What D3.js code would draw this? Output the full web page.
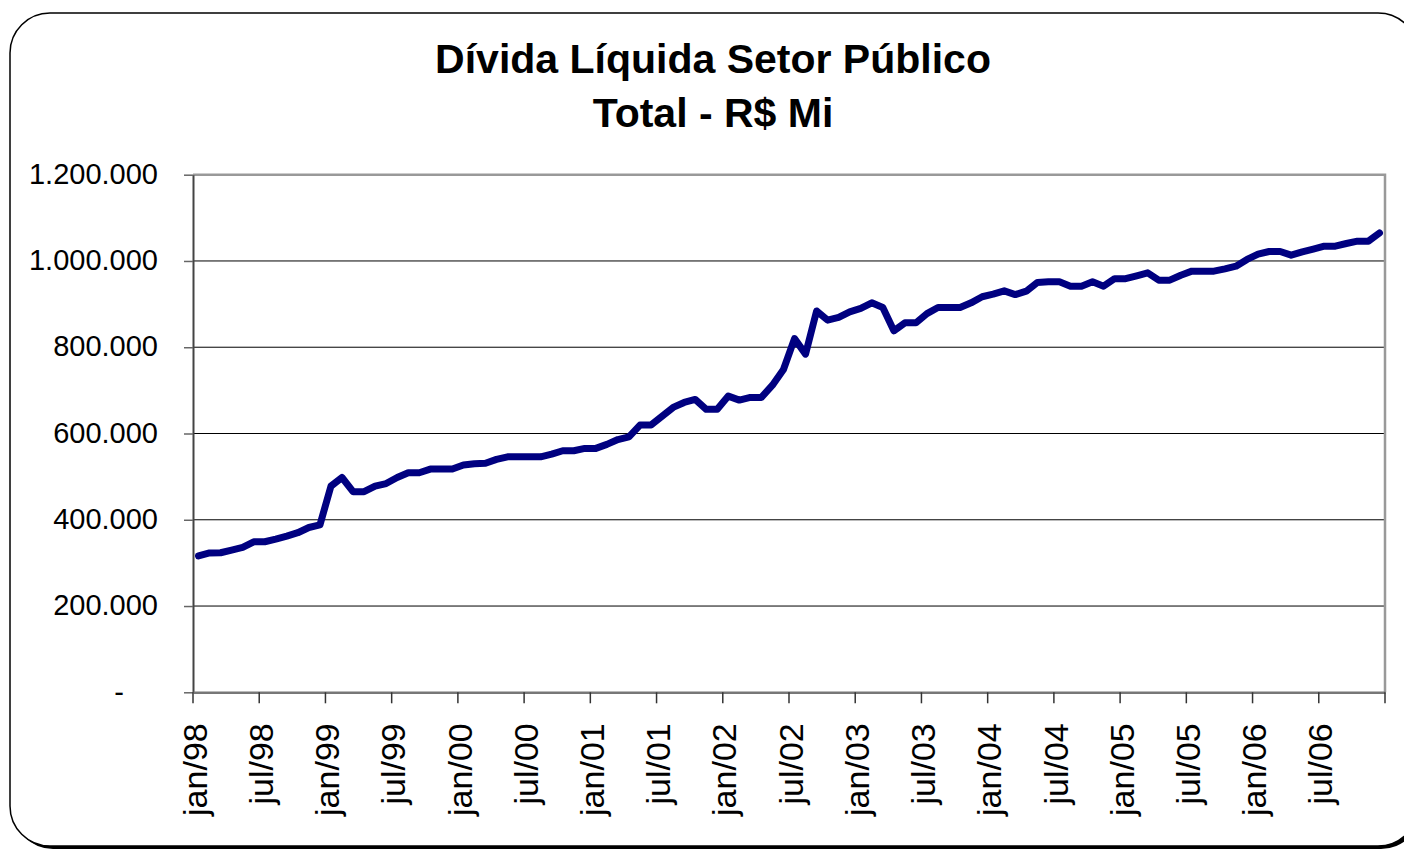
<!DOCTYPE html>
<html>
<head>
<meta charset="utf-8">
<script src="https://cdn.jsdelivr.net/npm/d3@7"></script>
<style>
  body { margin: 0; background: #fff; overflow: hidden; }
  svg { display: block; font-family: "Liberation Sans", Arial, sans-serif; }
</style>
</head>
<body>
<div id="chart"></div>
<script>
const titleLines = ["Dívida Líquida Setor Público", "Total - R$ Mi"];

const years = ["98", "99", "00", "01", "02", "03", "04", "05", "06"];
const monthNames = ["jan", "fev", "mar", "abr", "mai", "jun", "jul", "ago", "set", "out", "nov", "dez"];

// monthly debt, R$ million, jan/98 .. dez/06
const debt = [
  316000, 323000, 323500, 329800, 336000, 349000, 349000, 355000, 362000, 370000, 382000, 388000,
  478000, 498000, 465000, 465000, 478000, 484000, 498000, 509000, 509000, 517500, 517500, 517500,
  527000, 530000, 531000, 540000, 546000, 546000, 546000, 546000, 552000, 560000, 560000, 565500,
  565500, 574700, 586000, 592400, 619500, 619500, 640000, 660500, 672000, 679000, 656000, 656000,
  686700, 677400, 683600, 683600, 712000, 748500, 820000, 784000, 884000, 862800, 869000, 882000,
  890000, 903000, 892000, 838000, 856500, 856500, 878000, 892000, 892000, 892000, 903000, 917000,
  923000, 930700, 922000, 930000, 950000, 951600, 951600, 941600, 941600, 951600, 941600, 959000,
  959000, 965500, 972400, 955500, 955500, 967000, 976400, 976400, 976400, 981700, 988000, 1003500,
  1015800, 1022000, 1022000, 1013400, 1021000, 1027400, 1034300, 1034300, 1040500, 1045900, 1045900, 1065000
];

const yTicks = [0, 200000, 400000, 600000, 800000, 1000000, 1200000];
const xTickLabels = ["jan/98", "jul/98", "jan/99", "jul/99", "jan/00", "jul/00", "jan/01", "jul/01",
  "jan/02", "jul/02", "jan/03", "jul/03", "jan/04", "jul/04", "jan/05", "jul/05", "jan/06", "jul/06"];

const months = [];
years.forEach(yy => monthNames.forEach(m => months.push(m + "/" + yy)));
const data = months.map((m, i) => ({ month: m, value: debt[i] }));

const W = 1404, H = 850;
const plot = { left: 193, right: 1385, top: 174.7, bottom: 692.3 };

const svg = d3.select("#chart").append("svg")
  .attr("width", W).attr("height", H);

// frame with shadow (right side runs past the picture edge)
svg.append("rect")
  .attr("x", 13).attr("y", 16).attr("width", 1408).attr("height", 833)
  .attr("rx", 40).attr("fill", "#000");
svg.append("rect")
  .attr("x", 10).attr("y", 13).attr("width", 1408).attr("height", 833)
  .attr("rx", 40).attr("fill", "#fff").attr("stroke", "#000").attr("stroke-width", 1.5);

// title
svg.append("g").selectAll("text")
  .data(titleLines)
  .enter()
  .append("text")
  .attr("x", 713)
  .attr("y", (d, i) => 73 + i * 54)
  .attr("text-anchor", "middle")
  .attr("font-size", "41px")
  .attr("font-weight", "bold")
  .text(d => d);

const x = d3.scaleBand().domain(months).range([plot.left, plot.right]).padding(0);
const y = d3.scaleLinear().domain([0, 1200000]).range([plot.bottom, plot.top]);

const ptBR = d3.formatLocale({ decimal: ",", thousands: ".", grouping: [3], currency: ["R$", ""] });
const fmt = ptBR.format(",.0f");

// gridlines
svg.append("g")
  .selectAll("line")
  .data(yTicks.filter(v => v > 0 && v < 1200000))
  .enter()
  .append("line")
  .attr("x1", plot.left).attr("x2", plot.right)
  .attr("y1", d => y(d)).attr("y2", d => y(d))
  .attr("stroke", "#000").attr("stroke-width", 1);

// top and right border
svg.append("path")
  .attr("d", `M${plot.left},${plot.top}H${plot.right}V${plot.bottom}`)
  .attr("fill", "none").attr("stroke", "#999").attr("stroke-width", 2.5);

// y axis
const yAxis = svg.append("g")
  .attr("transform", `translate(${plot.left},0)`)
  .call(d3.axisLeft(y).tickValues(yTicks).tickSize(9).tickSizeOuter(0)
    .tickFormat(d => d === 0 ? "-" : fmt(d)));
yAxis.select(".domain").attr("stroke", "#444").attr("stroke-width", 2);
yAxis.selectAll(".tick line").attr("stroke", "#666").attr("stroke-width", 1.5);
yAxis.selectAll(".tick text")
  .attr("x", d => d === 0 ? -69 : -35)
  .attr("dy", "0.3em")
  .attr("font-size", "29px")
  .attr("fill", "#000")
  .attr("font-family", "Liberation Sans, Arial, sans-serif");

// x axis
const xAxis = svg.append("g")
  .attr("transform", `translate(0,${plot.bottom})`)
  .call(d3.axisBottom(x).tickValues(xTickLabels).tickSize(11).tickSizeOuter(0));
xAxis.select(".domain").attr("stroke", "#777").attr("stroke-width", 2.5);
xAxis.selectAll(".tick line")
  .attr("x1", -x.bandwidth() / 2).attr("x2", -x.bandwidth() / 2)
  .attr("stroke", "#333").attr("stroke-width", 1.5);
xAxis.selectAll(".tick text")
  .attr("transform", "rotate(-90)")
  .attr("text-anchor", "end")
  .attr("x", -31).attr("y", 0)
  .attr("dy", "0.24em")
  .attr("font-size", "34px")
  .attr("fill", "#000")
  .attr("font-family", "Liberation Sans, Arial, sans-serif");
xAxis.append("line")
  .attr("x1", plot.right).attr("x2", plot.right)
  .attr("y1", 0).attr("y2", 11)
  .attr("stroke", "#333").attr("stroke-width", 1.5);

// series line
const line = d3.line()
  .x(d => x(d.month) + x.bandwidth() / 2)
  .y(d => y(d.value));

svg.append("path")
  .datum(data)
  .attr("d", line)
  .attr("fill", "none")
  .attr("stroke", "#000080")
  .attr("stroke-width", 7)
  .attr("stroke-linejoin", "round")
  .attr("stroke-linecap", "round");
</script>
</body>
</html>
